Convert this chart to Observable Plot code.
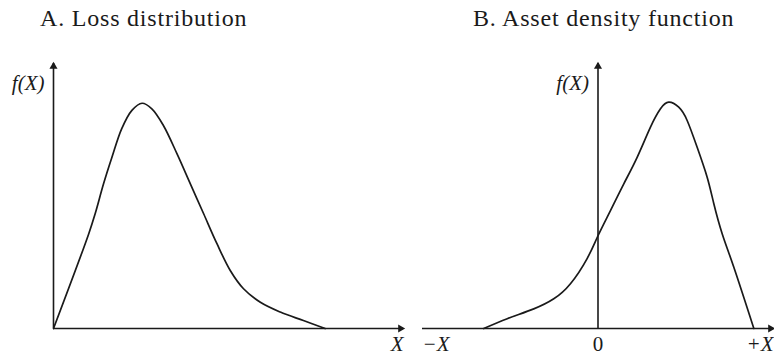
<!DOCTYPE html>
<html>
<head>
<meta charset="utf-8">
<script src="https://cdn.jsdelivr.net/npm/d3@7"></script>
<script src="https://cdn.jsdelivr.net/npm/@observablehq/plot@0.6"></script>
<style>
  html, body { margin: 0; padding: 0; background: #fff; }
  #wrap { position: relative; width: 774px; height: 357px; overflow: hidden; font-family: "Liberation Serif", "Times New Roman", serif; color: #1a1a1a; }
  .title { position: absolute; top: 6px; font-size: 24px; line-height: 24px; letter-spacing: 0.8px; white-space: nowrap; }
  #charts { position: absolute; top: 35px; left: 0; display: flex; }
  #charts svg { overflow: visible; }
</style>
</head>
<body>
<div id="wrap">
  <div class="title" id="tA" style="left:40px"></div>
  <div class="title" id="tB" style="left:473px"></div>
  <div id="charts"></div>
</div>
<script>
// ---- data ----
const titles = ["A. Loss distribution", "B. Asset density function"];
const yLabel = "f(X)";
const lossAxisLabel = "X";
const assetTickValues = [-100, 0, 100];
const assetTickLabels = ["\u2212X", "0", "+X"];

// Panel A: loss distribution (arbitrary units)
const lossX = [0, 10, 11.9, 14.3, 16.7, 19.5, 22.4, 25.3, 28.1, 31.4, 35.3, 39.1, 42.9, 46.7, 50.5, 54.3, 59.1, 64.8, 71.4, 77.6];
const lossY = [0, 35.5, 43.3, 54.6, 64.6, 75.4, 82.3, 85.0, 82.9, 76.6, 65.9, 54.6, 43.3, 32.0, 21.9, 15.0, 9.9, 6.2, 3.0, 0];

// Panel B: asset density function (arbitrary units)
const assetX = [-65.1, -51.7, -36.6, -25.2, -15.7, -6.2, 0, 7.1, 14.7, 22.3, 29.9, 35.6, 40.3, 46.0, 50.8, 56.5, 62.2, 66.0, 70.8, 77.4, 88.8];
const assetY = [0, 3.7, 7.4, 11.2, 16.9, 26.4, 35.0, 44.5, 54.6, 64.6, 76.0, 82.9, 85.4, 83.5, 78.5, 68.4, 57.1, 47.1, 35.7, 23.1, 0];

document.getElementById("tA").textContent = titles[0];
document.getElementById("tB").textContent = titles[1];

const ink = "#1a1a1a";
const serif = '"Liberation Serif", "Times New Roman", Times, serif';
const lossData = lossX.map((x, i) => ({x, y: lossY[i]}));
const assetData = assetX.map((x, i) => ({x, y: assetY[i]}));

const common = {
  height: 322,
  marginTop: 28,
  marginBottom: 29,
  y: {domain: [0, 100], axis: null},
  style: {fontFamily: serif, fontSize: "21px", color: ink, background: "transparent", overflow: "visible"}
};

function axesMarks(x0, x1) {
  return [
    Plot.ruleY([0], {x1: x0, x2: x1, stroke: ink, strokeWidth: 1.6}),
    Plot.ruleX([0], {y1: 0, y2: 100, stroke: ink, strokeWidth: 1.6}),
    Plot.dot([{x: x1, y: 0}], {x: "x", y: "y", symbol: "triangle", r: 3, fill: ink, stroke: "none", rotate: 90, dx: -3}),
    Plot.dot([{x: 0, y: 100}], {x: "x", y: "y", symbol: "triangle", r: 3, fill: ink, stroke: "none", dy: 3}),
    Plot.text([yLabel], {x: 0, y: 92.5, text: d => d, textAnchor: "end", dx: -9, fontStyle: "italic", fill: ink, fontSize: 21, fontFamily: serif})
  ];
}

const chartA = Plot.plot({
  ...common,
  width: 410,
  marginLeft: 53,
  marginRight: 7,
  x: {domain: [0, 100], axis: null},
  marks: [
    ...axesMarks(0, 100),
    Plot.line(lossData, {x: "x", y: "y", curve: "catmull-rom", stroke: ink, strokeWidth: 1.7}),
    Plot.text([lossAxisLabel], {x: 100, y: 0, text: d => d, textAnchor: "end", lineAnchor: "top", dy: 8, fontStyle: "italic", fill: ink, fontSize: 21, fontFamily: serif})
  ]
});

const tickData = assetTickValues.map((v, i) => ({v, label: assetTickLabels[i]}));
const chartB = Plot.plot({
  ...common,
  width: 364,
  marginLeft: 12,
  marginRight: 1,
  x: {domain: [-100, 100], axis: null},
  marks: [
    ...axesMarks(-100, 100),
    Plot.line(assetData, {x: "x", y: "y", curve: "natural", stroke: ink, strokeWidth: 1.7}),
    Plot.text(tickData.filter(d => d.v < 0), {x: "v", y: 0, text: "label", textAnchor: "start", lineAnchor: "top", dy: 8, fontStyle: "italic", fill: ink, fontSize: 21, fontFamily: serif}),
    Plot.text(tickData.filter(d => d.v === 0), {x: "v", y: 0, text: "label", textAnchor: "middle", lineAnchor: "top", dy: 8, fill: ink, fontSize: 21, fontFamily: serif}),
    Plot.text(tickData.filter(d => d.v > 0), {x: "v", y: 0, text: "label", textAnchor: "end", lineAnchor: "top", dy: 8, fontStyle: "italic", fill: ink, fontSize: 21, fontFamily: serif})
  ]
});

document.getElementById("charts").append(chartA, chartB);
</script>
</body>
</html>
